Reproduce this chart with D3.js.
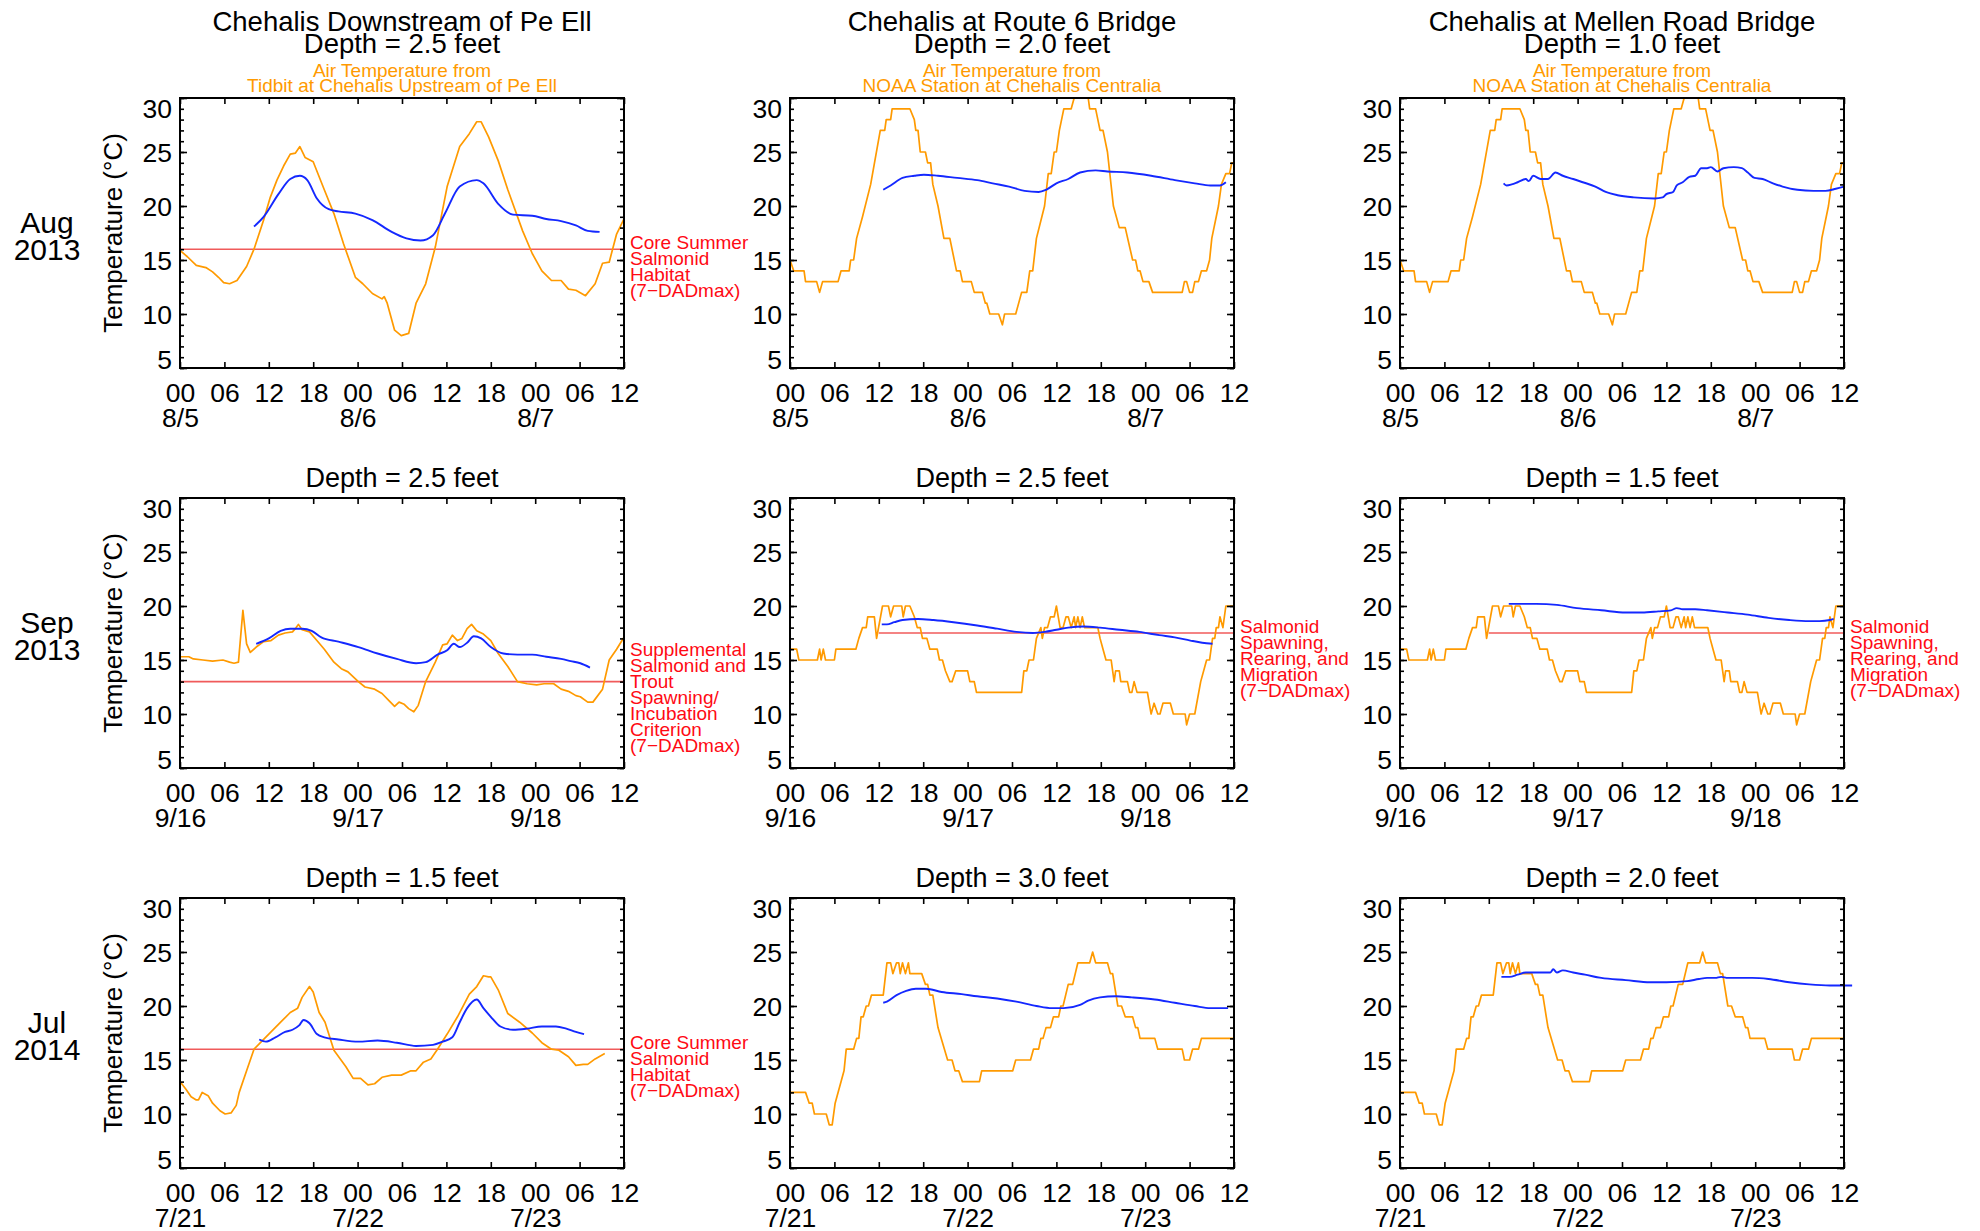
<!DOCTYPE html>
<html>
<head>
<meta charset="utf-8">
<script src="https://cdn.jsdelivr.net/npm/d3@7"></script>
<style>
  body { margin: 0; background: #fff; }
  svg { display: block; font-family: "Liberation Sans", Arial, Helvetica, sans-serif; }
</style>
</head>
<body>
<script>
// ———————— data (hour since 00:00 of first day, °C) ———————— //

var siteNames = ["Chehalis Downstream of Pe Ell", "Chehalis at Route 6 Bridge", "Chehalis at Mellen Road Bridge"];
var airSources = ["Tidbit at Chehalis Upstream of Pe Ell", "NOAA Station at Chehalis Centralia", "NOAA Station at Chehalis Centralia"];
var rowMonths = ["Aug", "Sep", "Jul"];
var rowYears = ["2013", "2013", "2014"];
var rowDays = [["8/5", "8/6", "8/7"], ["9/16", "9/17", "9/18"], ["7/21", "7/22", "7/23"]];
var depths = [["2.5", "2.0", "1.0"], ["2.5", "2.5", "1.5"], ["1.5", "3.0", "2.0"]];
var hourTicks = [0, 6, 12, 18, 24, 30, 36, 42, 48, 54, 60];
var tempMajor = [5, 10, 15, 20, 25, 30];
var tempMinor = d3.range(5, 31, 1);

var coreText = ["Core Summer", "Salmonid", "Habitat", "(7\u2212DADmax)"];
var supplText = ["Supplemental", "Salmonid and", "Trout", "Spawning/", "Incubation", "Criterion", "(7\u2212DADmax)"];
var spawnText = ["Salmonid", "Spawning,", "Rearing, and", "Migration", "(7\u2212DADmax)"];

// Aug 2013
var airAugPeEll = [[0,15.9],[1,15.3],[2.2,14.5],[3.5,14.3],[4.4,13.9],[5.2,13.4],[5.9,12.9],[6.7,12.8],[7.7,13.1],[9,14.4],[10,16.0],[11.3,18.7],[12.2,20.8],[13.1,22.4],[14,23.7],[14.9,24.8],[15.6,24.9],[16.2,25.5],[16.9,24.5],[18,24.1],[19.5,21.5],[20.8,19.3],[22.1,16.5],[23.7,13.4],[24.7,12.8],[26,11.9],[27.3,11.4],[27.6,11.6],[28,11.0],[29,8.5],[29.9,8.0],[30.9,8.2],[31.9,11.0],[33.2,12.8],[34.5,16.2],[36.1,21.8],[37.8,25.5],[39.1,26.7],[40.1,27.8],[40.7,27.8],[41.7,26.4],[43,24.2],[44.3,21.5],[46.3,17.7],[47.6,15.6],[48.9,14.0],[50.2,13.1],[51.5,13.1],[52.5,12.3],[53.5,12.2],[54.8,11.7],[56.1,12.8],[57.1,14.7],[58,14.8],[59,17.4],[60,18.8]];
var waterAugPeEll = [[10,18.1],[11.3,19.0],[13.3,21.1],[14.9,22.5],[16.2,22.8],[17.2,22.4],[18.5,20.7],[20.1,19.7],[21.4,19.5],[23.7,19.3],[26,18.7],[28.6,17.6],[30.6,17.0],[32.5,16.8],[34.2,17.3],[35.8,19.3],[37.8,21.8],[40.1,22.4],[41,22.1],[43,20.2],[45,19.2],[47.6,19.1],[49.5,18.8],[51.5,18.6],[53.5,18.2],[55.1,17.7],[56.7,17.6]];
var airAugNoaa = [[0,15],[0.5,14],[1.9,14],[2.1,13],[3.6,13],[4,12],[4.4,13],[6.5,13],[6.9,14],[8,14],[8.2,15],[8.6,15],[9,17],[9.8,19],[10.9,22],[12.2,27],[12.8,27],[13,28],[13.6,28],[13.8,29],[16.2,29],[16.8,28],[17,27],[17.3,27],[17.6,25],[18.3,25],[18.6,24],[19,24],[19.3,22],[20,20],[20.8,17],[21.6,17],[22.5,14],[23,14],[23.3,13],[24.5,13],[24.9,12],[26,12],[26.4,11],[26.6,11],[27,10],[28.2,10],[28.7,9],[29,10],[30.5,10],[31.3,12],[32,12],[32.4,14],[32.8,14],[33.3,17],[34.4,20],[34.9,23],[35.3,23],[35.7,25],[36,25],[36.4,27],[37,29],[38,29],[38.4,30],[40.3,30],[40.5,29],[41.3,29],[41.9,27],[42.3,27],[42.9,25],[43.7,20],[44.5,18],[45.3,18],[46.3,15],[46.7,15],[47,14],[47.3,14],[47.7,13],[48.5,13],[49,12],[53,12],[53.3,13],[53.6,13],[54,12],[54.4,12],[54.7,13],[55.2,13],[55.6,14],[56.3,14],[56.7,15],[57,17],[57.9,20],[58.3,22],[58.9,23],[59.4,23],[59.7,24],[60,24]];
var waterAugRt6 = [[12.6,21.5],[13.6,21.9],[15.2,22.6],[16.8,22.8],[18.1,22.9],[20,22.8],[22.6,22.6],[25.3,22.4],[27.4,22.1],[29.6,21.8],[31.7,21.4],[33.6,21.3],[34.6,21.5],[36,22.1],[37.6,22.5],[39.2,23.1],[41.3,23.3],[42.9,23.2],[45.6,23.1],[48.8,22.8],[52,22.4],[54.7,22.1],[56.8,21.9],[58.1,21.9],[58.9,22.2]];
var waterAugMellen = [[14,22.1],[14.4,21.9],[15.1,22.0],[15.9,22.2],[17,22.5],[17.4,22.3],[18,22.8],[19,22.5],[20,22.5],[21,23.1],[22,22.8],[23.4,22.5],[24.7,22.2],[26.4,21.8],[27.8,21.3],[29.4,21.0],[31.6,20.8],[34.4,20.7],[35.5,20.8],[36,21.1],[36.9,21.3],[37.4,21.9],[38.2,22.2],[39.1,22.7],[39.9,22.8],[40.7,23.5],[41.5,23.5],[42,23.6],[42.9,23.2],[43.7,23.5],[45.1,23.6],[46.2,23.5],[47,23.1],[47.9,22.6],[49,22.5],[50.4,22.1],[51.7,21.8],[53.7,21.5],[55.9,21.4],[57.5,21.4],[58.9,21.6],[60,21.8]];

// Sep 2013
var airSepPeEll = [[0,15.3],[1.2,15.3],[1.8,15.1],[3.1,15.0],[4.4,14.9],[5.8,15.0],[6.7,14.8],[7.3,14.7],[7.9,14.8],[8.5,19.6],[9,16.5],[9.5,15.7],[10.3,16.2],[11.3,16.7],[12.3,16.8],[13.3,17.3],[14.2,17.5],[15.2,17.6],[15.7,18.0],[16,18.3],[16.5,17.8],[17.5,17.6],[18.5,16.8],[19.5,16.0],[20.8,14.8],[21.8,14.2],[22.7,13.9],[24.1,13.0],[25,12.5],[26.3,12.3],[27.3,11.9],[28.3,11.2],[29,10.7],[29.6,11.1],[30.3,10.9],[30.9,10.5],[31.6,10.2],[32.2,10.8],[33.2,13.0],[34.5,14.8],[35.5,16.4],[36.1,16.5],[36.8,17.3],[37.5,16.8],[38.1,17.0],[38.8,17.9],[39.4,18.3],[40.1,17.7],[41,17.4],[42,16.8],[43,15.6],[44.3,14.4],[45.6,13.0],[46.9,12.8],[48.2,12.7],[49.2,12.8],[50.5,12.8],[51.5,12.3],[52.5,12.1],[53.5,11.7],[54.1,11.6],[55.1,11.1],[55.8,11.1],[57.1,12.3],[58,15.0],[59,16.0],[60,17.1]];
var waterSepPeEll = [[10.3,16.5],[12,17.0],[13.6,17.7],[14.9,17.9],[16.5,17.9],[17.8,17.7],[19.1,17.1],[21.4,16.7],[24.1,16.2],[26.7,15.6],[29.3,15.1],[31.9,14.7],[33.2,14.8],[34.8,15.5],[36.1,15.9],[37,16.5],[37.8,16.2],[38.8,16.6],[39.7,17.2],[40.7,17.0],[42,16.2],[43.7,15.6],[45.6,15.5],[47.6,15.5],[49.5,15.3],[51.5,15.1],[52.8,14.9],[54.1,14.7],[55.4,14.3]];
var airSepNoaa = [[0,16],[0.9,16],[1.2,15],[3.7,15],[4,16],[4.2,15],[4.5,16],[4.8,15],[6,15],[6.2,16],[8.9,16],[9.3,17],[9.8,18],[10.3,18],[10.5,19],[11.4,19],[11.7,17],[12.5,20],[13.3,20],[13.6,19],[14,20],[15.1,20],[15.3,19],[15.6,20],[16.2,20],[16.8,19],[17.2,18],[17.6,18],[17.9,17],[18.5,17],[18.9,16],[19.9,16],[20.2,15],[20.6,15],[21,14],[21.6,13],[21.9,13],[22.4,14],[24,14],[24.3,13],[24.9,13],[25.2,12],[31.3,12],[31.6,14],[32,14],[32.3,15],[32.9,15],[33.3,17],[33.9,18],[34.1,17],[34.4,18],[34.8,18],[35.2,19],[35.7,19],[36,20],[36.5,18],[36.9,18],[37.3,19],[37.6,19],[38,18],[38.4,19],[38.6,18],[38.9,19],[39.2,18],[39.5,19],[39.8,18],[41.6,18],[41.9,17],[42.3,16],[42.7,15],[43.4,15],[43.8,13],[44,14],[44.5,14],[44.7,13],[45.6,13],[45.9,12],[46.2,12],[46.5,13],[46.9,12],[48.3,12],[48.8,10],[49.2,11],[49.7,10],[50,10],[50.4,11],[51.4,11],[51.8,10],[53.4,10],[53.6,9],[54,10],[54.7,10],[55.5,13],[56.3,15],[56.7,15],[57.1,17],[57.4,17],[57.6,18],[57.9,18],[58.1,19],[58.5,18],[58.9,20],[60,20]];
var waterSepRt6 = [[12.4,18.3],[13.1,18.3],[14.1,18.5],[15.2,18.7],[17.3,18.8],[19.4,18.7],[22.1,18.5],[25.3,18.2],[28,17.9],[30.6,17.6],[32.8,17.5],[34.4,17.6],[36,17.8],[37.6,18.0],[39.7,18.1],[41.9,18.0],[44.5,17.8],[47.2,17.6],[49.9,17.3],[52,17.1],[54.1,16.8],[55.7,16.6],[57.1,16.5]];
var waterSepMellen = [[14.7,20.2],[16.2,20.2],[18.4,20.2],[21.2,20.1],[23.9,19.8],[27.2,19.6],[30.5,19.4],[32.7,19.4],[34.9,19.5],[36.6,19.6],[37.4,19.8],[38.2,19.7],[39.9,19.7],[41.5,19.6],[44.3,19.4],[47,19.2],[49.8,18.9],[52.6,18.7],[55.3,18.6],[56.7,18.6],[58.1,18.7],[58.6,18.8]];

// Jul 2014
var airJulPeEll = [[0,13.0],[0.8,12.3],[1.5,11.6],[2.2,11.3],[2.5,11.3],[3,12.0],[3.8,11.7],[4.4,11.0],[5.4,10.3],[6.1,10.0],[6.9,10.1],[7.6,10.8],[8,12.0],[9,14.0],[10,16.0],[11,16.7],[12.3,17.6],[13.6,18.5],[14.9,19.4],[15.9,19.8],[16.5,20.8],[17.5,21.8],[18,21.3],[18.8,19.4],[19.6,18.5],[20.8,15.9],[22.4,14.4],[23.4,13.3],[24.4,13.3],[25.4,12.7],[26.3,12.8],[27.3,13.4],[28.6,13.6],[29.9,13.6],[31.2,14.0],[31.9,14.0],[32.9,14.8],[33.9,15.1],[34.8,16.0],[36.1,17.4],[37.5,19.0],[39.1,21.1],[40.1,21.8],[41,22.8],[41.7,22.7],[42,22.7],[43,21.5],[44.3,19.3],[45.9,18.5],[47.6,17.5],[48.9,16.6],[50.2,16.0],[51.2,15.9],[52.5,15.3],[53.5,14.5],[54.5,14.6],[55.1,14.6],[56.1,15.1],[57.4,15.6]];
var waterJulPeEll = [[10.7,16.9],[11.6,16.7],[12.9,17.1],[14.2,17.6],[15.2,17.8],[16.1,18.2],[16.7,18.7],[17.5,18.4],[18.5,17.4],[19.5,17.1],[21.4,16.9],[24.1,16.7],[26.7,16.8],[29.3,16.6],[31.9,16.3],[34.2,16.4],[35.5,16.7],[36.8,17.1],[37.8,18.5],[38.8,19.8],[40.1,20.6],[41,19.8],[42,19.0],[43.3,18.1],[45,17.8],[46.9,17.9],[48.9,18.1],[50.8,18.1],[52.2,17.9],[53.5,17.6],[54.6,17.4]];
var airJulNoaa = [[0,12],[2.1,12],[2.6,11],[3,11],[3.3,10],[4.9,10],[5.3,9],[5.7,9],[6.1,11],[7.3,14],[7.6,16],[8.6,16],[9,17],[9.3,17],[9.6,19],[9.9,19],[10.3,20],[10.6,20],[11,21],[12.6,21],[13.1,24],[13.6,24],[13.9,23],[14.4,24],[14.7,24],[14.9,23],[15.2,24],[15.6,23],[16,24],[16.2,23],[17.8,23],[18.3,22],[18.6,22],[18.9,21],[19.3,21],[20,18],[21.3,15],[21.9,15],[22.3,14],[22.8,14],[23.3,13],[25.6,13],[25.9,14],[30.1,14],[30.5,15],[32.5,15],[32.9,16],[33.6,16],[33.9,17],[34.2,17],[34.6,18],[35.2,18],[35.6,19],[36.3,19],[36.6,20],[36.9,20],[37.6,22],[38.2,22],[38.9,24],[40.5,24],[40.9,25],[41.3,24],[42.9,24],[43.3,23],[43.6,23],[44.3,20],[44.8,20],[45.3,19],[46.3,19],[46.7,18],[47,18],[47.3,17],[49.3,17],[49.7,16],[53,16],[53.3,15],[54,15],[54.4,16],[55.2,16],[55.6,17],[60,17]];
var waterJulRt6 = [[12.6,20.3],[13.1,20.4],[14.4,21.0],[15.7,21.4],[17,21.6],[18.4,21.6],[20.5,21.3],[23.2,21.1],[25.3,20.9],[28,20.7],[30.6,20.4],[33.3,20.0],[35.4,19.8],[37,19.8],[39.2,20.1],[40.3,20.5],[41.9,20.8],[44,20.9],[46.2,20.8],[49.3,20.6],[52,20.3],[54.7,20.0],[56.8,19.8],[59.2,19.8]];
var waterJulMellen = [[13.7,22.7],[14.8,22.7],[15.9,22.9],[17,23.1],[18.4,23.1],[19.5,23.1],[20.3,23.1],[20.7,23.4],[21.2,23.1],[22,23.3],[23.4,23.1],[25,22.9],[27.2,22.6],[30.5,22.4],[33.8,22.2],[36,22.2],[38.8,22.3],[40.4,22.5],[41.5,22.6],[42.6,22.6],[43.4,22.7],[44.3,22.6],[45.7,22.6],[47.6,22.6],[49.8,22.5],[52.6,22.2],[55.3,22.0],[58.1,21.9],[61.1,21.9]];

// ———————— panel table ———————— //
var panels = [
  { row: 0, col: 0, air: airAugPeEll, water: waterAugPeEll, crit: 16, critFrom: 0, critText: coreText },
  { row: 0, col: 1, air: airAugNoaa, water: waterAugRt6 },
  { row: 0, col: 2, air: airAugNoaa, water: waterAugMellen },
  { row: 1, col: 0, air: airSepPeEll, water: waterSepPeEll, crit: 13, critFrom: 0, critText: supplText },
  { row: 1, col: 1, air: airSepNoaa, water: waterSepRt6, crit: 17.5, critFrom: 12, critText: spawnText },
  { row: 1, col: 2, air: airSepNoaa, water: waterSepMellen, crit: 17.5, critFrom: 12, critText: spawnText },
  { row: 2, col: 0, air: airJulPeEll, water: waterJulPeEll, crit: 16, critFrom: 0, critText: coreText },
  { row: 2, col: 1, air: airJulNoaa, water: waterJulRt6 },
  { row: 2, col: 2, air: airJulNoaa, water: waterJulMellen }
];

// ———————— layout ———————— //
var w = 1980;
var h = 1231;
var colLeft = [180, 790, 1400];
var rowTop = [98, 498, 898];
var pw = 444;
var ph = 270;
var labelShift = { "1-0": -26 };

var orange = "#ff9a00";
var blue = "#1428ff";
var redLine = "#f05a5a";
var redText = "#ff0a14";
var fontMain = 26.5;

var svg = d3.select("body").append("svg")
    .attr("width", w)
    .attr("height", h);

var hourFmt = d3.format("02d");
var noLabel = function () { return ""; };

// ———————— draw each panel ———————— //
panels.forEach(function (p) {
  var x0 = colLeft[p.col];
  var y0 = rowTop[p.row];
  var x = d3.scaleLinear().domain([0, 60]).range([x0, x0 + pw]);
  var y = d3.scaleLinear().domain([5, 30]).range([y0 + ph, y0]);
  var g = svg.append("g");

  // criterion line + its label (one text block, one line per tspan)
  if (p.crit) {
    g.append("line")
        .attr("x1", x(p.critFrom))
        .attr("x2", x(60))
        .attr("y1", y(p.crit))
        .attr("y2", y(p.crit))
        .style("stroke", redLine)
        .style("stroke-width", 1.6);

    var shift = labelShift[p.row + "-" + p.col] || 0;
    g.append("text")
        .style("font-size", "19px")
        .style("fill", redText)
        .selectAll("tspan")
        .data(p.critText)
        .enter()
        .append("tspan")
        .attr("x", x0 + pw + 6)
        .attr("y", function (d, i) { return y(p.crit) + shift + i * 16; })
        .text(function (d) { return d; });
  }

  // air temperature
  var airLine = d3.line()
      .x(function (d) { return x(d[0]); })
      .y(function (d) { return y(d[1]); });
  g.append("path")
      .datum(p.air)
      .attr("d", airLine)
      .style("fill", "none")
      .style("stroke", orange)
      .style("stroke-width", 1.7)
      .style("stroke-linejoin", "round");

  // water temperature
  var waterLine = d3.line()
      .curve(d3.curveMonotoneX)
      .x(function (d) { return x(d[0]); })
      .y(function (d) { return y(d[1]); });
  g.append("path")
      .datum(p.water)
      .attr("d", waterLine)
      .style("fill", "none")
      .style("stroke", blue)
      .style("stroke-width", 1.9);

  // axes: ticks point inward on all four sides
  var bottom = g.append("g")
      .attr("transform", "translate(0," + (y0 + ph) + ")")
      .call(d3.axisBottom(x).tickValues(hourTicks).tickSize(-6).tickFormat(function (d) { return hourFmt(d % 24); }));
  bottom.selectAll("text")
      .attr("y", 33.5)
      .attr("dy", null)
      .style("font-size", fontMain + "px")
      .each(function (d) {
        // day label sits under each 00 tick
        var k = d / 24;
        if (d % 24 === 0 && k < rowDays[p.row].length) {
          d3.select(this).append("tspan")
              .attr("x", 0)
              .attr("dy", 25)
              .text(rowDays[p.row][k]);
        }
      });

  g.append("g")
      .attr("transform", "translate(0," + y0 + ")")
      .call(d3.axisTop(x).tickValues(hourTicks).tickSize(-6).tickFormat(noLabel));

  var left = g.append("g")
      .attr("transform", "translate(" + x0 + ",0)")
      .call(d3.axisLeft(y).tickValues(tempMajor).tickSize(-7).tickPadding(8));
  left.selectAll("text")
      .style("font-size", fontMain + "px")
      .attr("dy", function (d) { return d === 30 ? "0.72em" : (d === 5 ? "0em" : "0.36em"); });
  g.append("g")
      .attr("transform", "translate(" + x0 + ",0)")
      .call(d3.axisLeft(y).tickValues(tempMinor).tickSize(-4).tickFormat(noLabel));

  g.append("g")
      .attr("transform", "translate(" + (x0 + pw) + ",0)")
      .call(d3.axisRight(y).tickValues(tempMajor).tickSize(-7).tickFormat(noLabel));
  g.append("g")
      .attr("transform", "translate(" + (x0 + pw) + ",0)")
      .call(d3.axisRight(y).tickValues(tempMinor).tickSize(-4).tickFormat(noLabel));

  g.selectAll(".domain").remove();
  g.selectAll(".tick line").style("stroke", "#000").style("stroke-width", 1.6);
  g.selectAll(".tick text").style("fill", "#000").style("font-family", null);

  // plot frame
  g.append("rect")
      .attr("x", x0)
      .attr("y", y0)
      .attr("width", pw)
      .attr("height", ph)
      .style("fill", "none")
      .style("stroke", "#000")
      .style("stroke-width", 2);

  // titles
  var cx = x0 + pw / 2;
  if (p.row === 0) {
    var title = g.append("text")
        .attr("text-anchor", "middle");
    title.append("tspan")
        .attr("x", cx).attr("y", 31)
        .style("font-size", "27.5px")
        .text(siteNames[p.col]);
    title.append("tspan")
        .attr("x", cx).attr("y", 53)
        .style("font-size", "27.5px")
        .text("Depth = " + depths[p.row][p.col] + " feet");
    title.append("tspan")
        .attr("x", cx).attr("y", 76.5)
        .style("font-size", "19px")
        .style("fill", orange)
        .text("Air Temperature from");
    title.append("tspan")
        .attr("x", cx).attr("y", 91.5)
        .style("font-size", "19px")
        .style("fill", orange)
        .text(airSources[p.col]);
  } else {
    g.append("text")
        .attr("x", cx).attr("y", y0 - 11)
        .attr("text-anchor", "middle")
        .style("font-size", "27px")
        .text("Depth = " + depths[p.row][p.col] + " feet");
  }

  // row label and y axis title in the first column
  if (p.col === 0) {
    var rowLabel = g.append("text")
        .attr("text-anchor", "middle")
        .style("font-size", "30px");
    rowLabel.append("tspan")
        .attr("x", 47).attr("y", y0 + ph / 2)
        .text(rowMonths[p.row]);
    rowLabel.append("tspan")
        .attr("x", 47).attr("y", y0 + ph / 2 + 27)
        .text(rowYears[p.row]);
    g.append("text")
        .attr("transform", "translate(122," + (y0 + ph / 2) + ") rotate(-90)")
        .attr("text-anchor", "middle")
        .style("font-size", "26px")
        .text("Temperature (\u00B0C)");
  }
});
</script>
</body>
</html>
